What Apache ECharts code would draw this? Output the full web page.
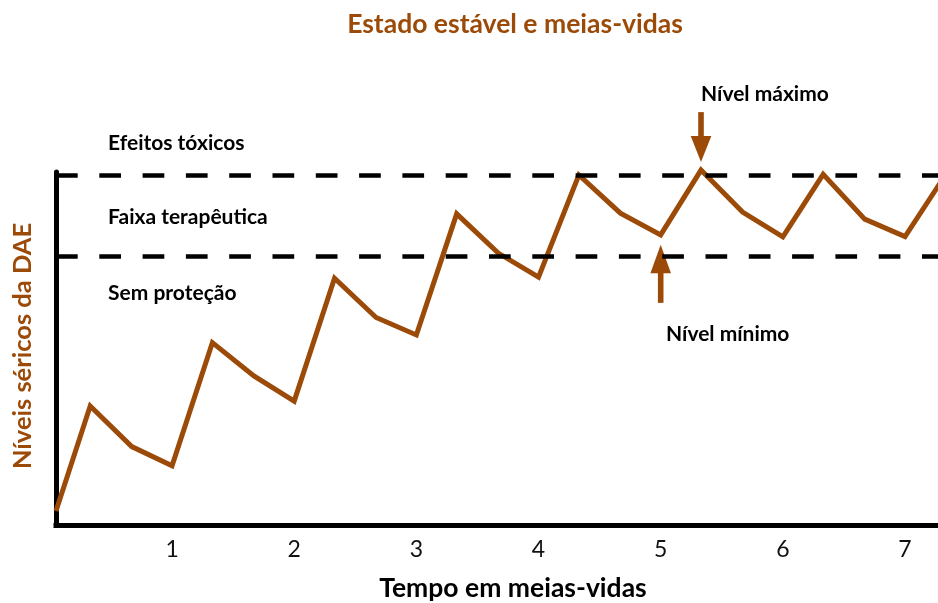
<!DOCTYPE html>
<html><head><meta charset="utf-8">
<script src="https://cdn.jsdelivr.net/npm/echarts@6/dist/echarts.min.js"></script>
<style>html,body{margin:0;padding:0;background:#fff}#c{width:938px;height:603px}</style>
</head><body><div id="c"></div>
<script>
// Time in half-lives (x) and serum levels (relative units, 100 = toxic threshold)
const timeHalfLives = [0.05, 0.33, 0.67, 1, 1.33, 1.67, 2, 2.33, 2.67, 3, 3.33, 3.67, 4, 4.33, 4.67, 5, 5.33, 5.67, 6, 6.33, 6.67, 7, 7.33];
const serumLevels   = [4, 34.0, 22.4, 16.9, 52.1, 42.6, 35.4, 70.5, 59.3, 54.3, 88.9, 77.7, 70.8, 100, 89.1, 82.9, 101.4, 89.4, 82.3, 100.2, 87.4, 82.4, 100];
const tickLabels = [1, 2, 3, 4, 5, 6, 7];
const bandLimits = [100, 76.9]; // toxic threshold, therapeutic minimum
const peakPoint = [5.33, 101.4];
const troughPoint = [5, 82.9];

const BROWN = '#9b4a08';
const FONT = 'Lato';

const chart = echarts.init(document.getElementById('c'), null, {renderer: 'canvas'});
chart.setOption({
  animation: false,
  backgroundColor: '#fff',
  grid: {left: 56, right: 0, top: 172, bottom: 78, containLabel: false},
  xAxis: {
    type: 'value', min: 0.05, max: 7.27,
    axisLine: {show: true, onZero: false, lineStyle: {color: '#000', width: 5, cap: 'square'}},
    axisTick: {show: false},
    splitLine: {show: false},
    axisLabel: {customValues: tickLabels, margin: 13, color: '#111', fontFamily: FONT, fontSize: 23,
      formatter: v => String(v)}
  },
  yAxis: {
    type: 'value', min: 0, max: 100.86,
    axisLine: {show: true, lineStyle: {color: '#000', width: 5}},
    axisTick: {show: false}, axisLabel: {show: false}, splitLine: {show: false}
  },
  series: [{
    type: 'line',
    data: timeHalfLives.map((x, i) => [x, serumLevels[i]]),
    showSymbol: false, symbol: 'none', clip: false,
    lineStyle: {color: BROWN, width: 5, join: 'miter'},
    markLine: {
      silent: true, symbol: 'none', label: {show: false},
      lineStyle: {color: '#000', width: 4.5, type: [21.7, 21.6]},
      data: bandLimits.map(v => ({yAxis: v}))
    }
  }]
});

const p = chart.convertToPixel({seriesIndex: 0}, peakPoint);
const t = chart.convertToPixel({seriesIndex: 0}, troughPoint);
const txt = (text, x, y, size, color, extra) => Object.assign({
  type: 'text', x: x, y: y,
  style: {text: text, fill: color, font: 'bold ' + size + 'px ' + FONT, align: 'left', verticalAlign: 'middle'}
}, extra || {});

chart.setOption({
  graphic: [
    {type: 'text', x: 515, y: 24, style: {text: 'Estado estável e meias-vidas', fill: BROWN, font: 'bold 26.5px ' + FONT, align: 'center', verticalAlign: 'middle'}},
    {type: 'text', x: 513, y: 588, style: {text: 'Tempo em meias-vidas', fill: '#000', font: 'bold 26.5px ' + FONT, align: 'center', verticalAlign: 'middle'}},
    {type: 'text', x: 23, y: 346, rotation: Math.PI / 2, style: {text: 'Níveis séricos da DAE', fill: BROWN, font: 'bold 25.5px ' + FONT, align: 'center', verticalAlign: 'middle'}},
    txt('Efeitos tóxicos', 108, 143, 21, '#000'),
    txt('Faixa terapêutica', 108, 217, 21, '#000'),
    txt('Sem proteção', 108, 293, 21, '#000'),
    txt('Nível máximo', 701, 94, 21, '#000'),
    txt('Nível mínimo', 666, 334, 21, '#000'),
    // down arrow to peak
    {type: 'rect', shape: {x: p[0] - 2.8, y: p[1] - 58, width: 5.6, height: 25}, style: {fill: BROWN}},
    {type: 'polygon', shape: {points: [[p[0] - 10.3, p[1] - 34], [p[0] + 10.3, p[1] - 34], [p[0], p[1] - 8]]}, style: {fill: BROWN}},
    // up arrow to trough
    {type: 'rect', shape: {x: t[0] - 2.8, y: t[1] + 37, width: 5.6, height: 31}, style: {fill: BROWN}},
    {type: 'polygon', shape: {points: [[t[0] - 10.3, t[1] + 38.5], [t[0] + 10.3, t[1] + 38.5], [t[0], t[1] + 10]]}, style: {fill: BROWN}}
  ]
});
</script></body></html>
